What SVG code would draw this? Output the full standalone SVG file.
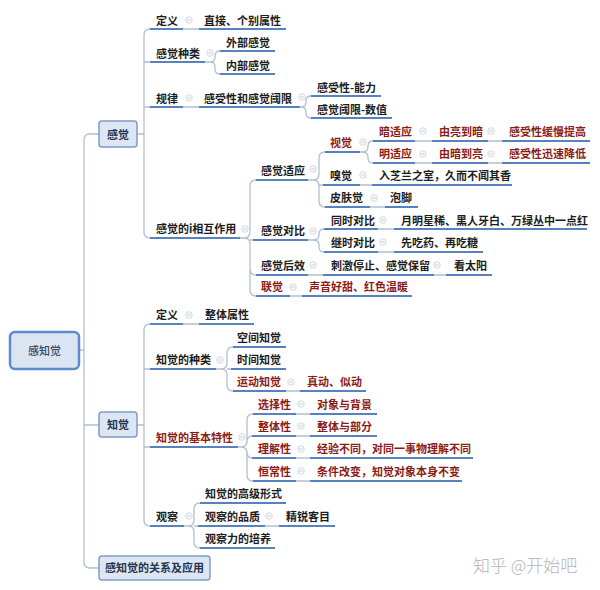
<svg xmlns="http://www.w3.org/2000/svg" width="600" height="590" viewBox="0 0 600 590">
<style>
.t{font-family:"Noto Sans CJK SC","Noto Sans",sans-serif;font-size:11px;fill:#1c1c1c;font-weight:700}
.r{fill:#8a1b16}
.bx{font-family:"Noto Sans CJK SC","Noto Sans",sans-serif;font-size:11px;fill:#24334f;font-weight:700;text-anchor:middle}
.u{stroke:#5683c0;stroke-width:2;fill:none}
.c{stroke:#b3bfcf;stroke-width:1.3;fill:none}
.k{fill:#f5f7f9;stroke:#cdd3da;stroke-width:0.8}
.km{stroke:#c4cad2;stroke-width:0.8}
.wm{font-family:"Noto Sans CJK SC","Noto Sans",sans-serif;font-size:17px;fill:#b4b4b4;font-weight:300}
</style>
<defs>
<g id="col"><circle r="3.3" class="k"/><line x1="-1.8" y1="0" x2="1.8" y2="0" class="km"/></g>
</defs>
<rect width="600" height="590" fill="#ffffff"/>

<g id="connectors">
<path class="c" d="M99 134 H90 Q84 134 84 140 V562 Q84 568 90 568 H99"/>
<path class="c" d="M79 350 H84 M84 425 H99"/>
<path class="c" d="M137 134 H144 M150 29 Q144 29 144 35 V232 Q144 238 150 238 M144 62 H150 M144 107 H150"/>
<path class="c" d="M137 425 H144 M150 324 Q144 324 144 330 V520 Q144 526 150 526 M144 369 H150 M144 447 H150"/>
<path class="c" d="M183 29 H199 M183 107 H199 M415 141 H432 M488 141 H502 M415 163 H432 M488 163 H502 M360 185 H372 M370 207 H385 M378 229 H394 M378 252 H394 M308 275 H323 M434 275 H446 M290 296 H302 M183 324 H199 M286 391 H300 M296 414 H310 M296 436 H310 M296 458 H310 M296 481 H310 M265 526 H279"/>
<path class="c" d="M205 62 H210 Q215 62 215 57 V56 Q215 51 220 51 M210 62 Q215 62 215 67 V69 Q215 74 220 74"/>
<path class="c" d="M300 107 H301 Q306 107 306 102 V101 Q306 96 311 96 M301 107 Q306 107 306 112 V113 Q306 118 311 118"/>
<path class="c" d="M240 238 H244 Q250 238 250 232 V186 Q250 180 256 180 M244 238 Q250 238 250 244 V290 Q250 296 256 296 M250 240 H253 M250 269 Q250 275 256 275"/>
<path class="c" d="M308 180 H313 Q319 180 319 174 V158 Q319 152 325 152 M313 180 Q319 180 319 186 V201 Q319 207 325 207 M319 185 H323"/>
<path class="c" d="M360 152 H362 Q368 152 368 147 V146 Q368 141 373 141 M362 152 Q368 152 368 157 V158 Q368 163 373 163"/>
<path class="c" d="M308 240 H313 Q319 240 319 235 V234 Q319 229 324 229 M313 240 Q319 240 319 245 V247 Q319 252 324 252"/>
<path class="c" d="M216 369 H221 Q227 369 227 363 V353 Q227 347 233 347 M221 369 Q227 369 227 375 V385 Q227 391 233 391 M227 369 H231"/>
<path class="c" d="M238 447 H241 Q247 447 247 441 V420 Q247 414 253 414 M241 447 Q247 447 247 453 V475 Q247 481 253 481 M247 442 Q247 436 252 436 M247 452 Q247 458 252 458"/>
<path class="c" d="M184 526 H188 Q194 526 194 520 V509 Q194 503 200 503 M188 526 Q194 526 194 532 V542 Q194 548 200 548 M194 526 H198"/>
</g>

<g id="root">
<rect x="10" y="332" width="69" height="37" rx="5" fill="#dbe5f2" stroke="#5d8bd0" stroke-width="2.5"/>
<text class="bx" x="44.5" y="354.5" style="fill:#3a4758;font-weight:500">感知觉</text>
</g>

<g id="n-ganjue">
<rect x="99" y="121" width="38" height="26" rx="3" fill="#dde6f3" stroke="#7e9cc8" stroke-width="1.5"/>
<text class="bx" x="118" y="138.5">感觉</text>
</g>
<g id="n-zhijue">
<rect x="99" y="412" width="38" height="25" rx="3" fill="#dde6f3" stroke="#7e9cc8" stroke-width="1.5"/>
<text class="bx" x="118" y="429">知觉</text>
</g>
<g id="n-guanxi">
<rect x="99" y="556" width="111" height="24" rx="3" fill="#dde6f3" stroke="#7e9cc8" stroke-width="1.5"/>
<text class="bx" x="154.5" y="572">感知觉的关系及应用</text>
</g>

<g id="n-dingyi1"><text class="t" x="156" y="25">定义</text><line class="u" x1="150" y1="29" x2="183" y2="29"/><use href="#col" x="189" y="20"/></g>
<g id="n-zhijie"><text class="t" x="204" y="25">直接、个别属性</text><line class="u" x1="199" y1="29" x2="286" y2="29"/></g>
<g id="n-zhonglei1"><text class="t" x="156" y="58">感觉种类</text><line class="u" x1="150" y1="62" x2="205" y2="62"/><use href="#col" x="210" y="53"/></g>
<g id="n-waibu"><text class="t" x="226" y="47">外部感觉</text><line class="u" x1="220" y1="51" x2="275" y2="51"/></g>
<g id="n-neibu"><text class="t" x="226" y="70">内部感觉</text><line class="u" x1="220" y1="74" x2="275" y2="74"/></g>
<g id="n-guilv"><text class="t" x="156" y="103">规律</text><line class="u" x1="150" y1="107" x2="183" y2="107"/><use href="#col" x="189" y="98"/></g>
<g id="n-ganshouxing"><text class="t" x="204" y="103">感受性和感觉阈限</text><line class="u" x1="199" y1="107" x2="300" y2="107"/><use href="#col" x="302" y="97"/></g>
<g id="n-nengli"><text class="t" x="317" y="92">感受性-能力</text><line class="u" x1="311" y1="96" x2="381" y2="96"/></g>
<g id="n-shuzhi"><text class="t" x="317" y="114">感觉阈限-数值</text><line class="u" x1="311" y1="118" x2="392" y2="118"/></g>
<g id="n-xianghu"><text class="t" x="156" y="233">感觉的i相互作用</text><line class="u" x1="150" y1="238" x2="240" y2="238"/><use href="#col" x="245" y="229"/></g>

<g id="n-shiying"><text class="t" x="261" y="175">感觉适应</text><line class="u" x1="256" y1="180" x2="308" y2="180"/><use href="#col" x="313" y="169"/></g>
<g id="n-shijue"><text class="t r" x="330" y="147">视觉</text><line class="u" x1="325" y1="152" x2="360" y2="152"/><use href="#col" x="363" y="142"/></g>
<g id="n-anshiying"><text class="t r" x="379" y="136">暗适应</text><line class="u" x1="373" y1="141" x2="415" y2="141"/><use href="#col" x="423" y="131"/></g>
<g id="n-youliang"><text class="t r" x="439" y="136">由亮到暗</text><line class="u" x1="432" y1="141" x2="488" y2="141"/><use href="#col" x="491" y="131"/></g>
<g id="n-huanman"><text class="t r" x="509" y="136">感受性缓慢提高</text><line class="u" x1="502" y1="141" x2="590" y2="141"/></g>
<g id="n-mingshiying"><text class="t r" x="379" y="158">明适应</text><line class="u" x1="373" y1="163" x2="415" y2="163"/><use href="#col" x="423" y="154"/></g>
<g id="n-youan"><text class="t r" x="439" y="158">由暗到亮</text><line class="u" x1="432" y1="163" x2="488" y2="163"/><use href="#col" x="491" y="154"/></g>
<g id="n-xunsu"><text class="t r" x="509" y="158">感受性迅速降低</text><line class="u" x1="502" y1="163" x2="590" y2="163"/></g>
<g id="n-xiujue"><text class="t" x="330" y="180">嗅觉</text><line class="u" x1="323" y1="185" x2="360" y2="185"/><use href="#col" x="363" y="175"/></g>
<g id="n-zhilan"><text class="t" x="379" y="180">入芝兰之室，久而不闻其香</text><line class="u" x1="372" y1="185" x2="512" y2="185"/></g>
<g id="n-pifu"><text class="t" x="330" y="202">皮肤觉</text><line class="u" x1="325" y1="207" x2="370" y2="207"/><use href="#col" x="374" y="198"/></g>
<g id="n-paojiao"><text class="t" x="390" y="202">泡脚</text><line class="u" x1="385" y1="207" x2="418" y2="207"/></g>

<g id="n-duibi"><text class="t" x="261" y="235">感觉对比</text><line class="u" x1="253" y1="240" x2="308" y2="240"/><use href="#col" x="313" y="231"/></g>
<g id="n-tongshi"><text class="t" x="331" y="225">同时对比</text><line class="u" x1="324" y1="229" x2="378" y2="229"/><use href="#col" x="383" y="220"/></g>
<g id="n-yueming"><text class="t" x="401" y="225">月明星稀、黑人牙白、万绿丛中一点红</text><line class="u" x1="394" y1="229" x2="587" y2="229"/></g>
<g id="n-jishi"><text class="t" x="331" y="247">继时对比</text><line class="u" x1="324" y1="252" x2="378" y2="252"/><use href="#col" x="383" y="242"/></g>
<g id="n-chiyao"><text class="t" x="401" y="247">先吃药、再吃糖</text><line class="u" x1="394" y1="252" x2="483" y2="252"/></g>
<g id="n-houxiao"><text class="t" x="261" y="270">感觉后效</text><line class="u" x1="256" y1="275" x2="308" y2="275"/><use href="#col" x="313" y="265"/></g>
<g id="n-ciji"><text class="t" x="331" y="270">刺激停止、感觉保留</text><line class="u" x1="323" y1="275" x2="434" y2="275"/><use href="#col" x="437" y="265"/></g>
<g id="n-taiyang"><text class="t" x="454" y="270">看太阳</text><line class="u" x1="446" y1="275" x2="492" y2="275"/></g>
<g id="n-lianjue"><text class="t r" x="261" y="291">联觉</text><line class="u" x1="256" y1="296" x2="290" y2="296"/><use href="#col" x="293" y="287"/></g>
<g id="n-shengyin"><text class="t r" x="309" y="291">声音好甜、红色温暖</text><line class="u" x1="302" y1="296" x2="412" y2="296"/></g>

<g id="n-dingyi2"><text class="t" x="156" y="319">定义</text><line class="u" x1="150" y1="324" x2="183" y2="324"/><use href="#col" x="189" y="315"/></g>
<g id="n-zhengti"><text class="t" x="205" y="319">整体属性</text><line class="u" x1="199" y1="324" x2="254" y2="324"/></g>
<g id="n-zhonglei2"><text class="t" x="156" y="364">知觉的种类</text><line class="u" x1="150" y1="369" x2="216" y2="369"/><use href="#col" x="220" y="360"/></g>
<g id="n-kongjian"><text class="t" x="237" y="342">空间知觉</text><line class="u" x1="233" y1="347" x2="286" y2="347"/></g>
<g id="n-shijian"><text class="t" x="237" y="364">时间知觉</text><line class="u" x1="231" y1="369" x2="286" y2="369"/></g>
<g id="n-yundong"><text class="t r" x="237" y="386">运动知觉</text><line class="u" x1="233" y1="391" x2="286" y2="391"/><use href="#col" x="291" y="382"/></g>
<g id="n-zhendong"><text class="t r" x="307" y="386">真动、似动</text><line class="u" x1="300" y1="391" x2="366" y2="391"/></g>
<g id="n-texing"><text class="t r" x="156" y="442">知觉的基本特性</text><line class="u" x1="150" y1="447" x2="238" y2="447"/><use href="#col" x="242" y="437"/></g>
<g id="n-xuanze"><text class="t r" x="258" y="409">选择性</text><line class="u" x1="253" y1="414" x2="296" y2="414"/><use href="#col" x="301" y="404"/></g>
<g id="n-duixiang"><text class="t r" x="317" y="409">对象与背景</text><line class="u" x1="310" y1="414" x2="377" y2="414"/></g>
<g id="n-zhengtixing"><text class="t r" x="258" y="431">整体性</text><line class="u" x1="252" y1="436" x2="296" y2="436"/><use href="#col" x="301" y="426"/></g>
<g id="n-bufen"><text class="t r" x="317" y="431">整体与部分</text><line class="u" x1="310" y1="436" x2="377" y2="436"/></g>
<g id="n-lijie"><text class="t r" x="258" y="453">理解性</text><line class="u" x1="252" y1="458" x2="296" y2="458"/><use href="#col" x="301" y="449"/></g>
<g id="n-jingyan"><text class="t r" x="317" y="453">经验不同，对同一事物理解不同</text><line class="u" x1="310" y1="458" x2="473" y2="458"/></g>
<g id="n-hengchang"><text class="t r" x="258" y="476">恒常性</text><line class="u" x1="253" y1="481" x2="296" y2="481"/><use href="#col" x="301" y="471"/></g>
<g id="n-tiaojian"><text class="t r" x="317" y="476">条件改变，知觉对象本身不变</text><line class="u" x1="310" y1="481" x2="462" y2="481"/></g>
<g id="n-guancha"><text class="t" x="156" y="521">观察</text><line class="u" x1="150" y1="526" x2="184" y2="526"/><use href="#col" x="189" y="516"/></g>
<g id="n-gaoji"><text class="t" x="205" y="498">知觉的高级形式</text><line class="u" x1="200" y1="503" x2="286" y2="503"/></g>
<g id="n-pinzhi"><text class="t" x="205" y="521">观察的品质</text><line class="u" x1="198" y1="526" x2="265" y2="526"/><use href="#col" x="269" y="516"/></g>
<g id="n-jingrui"><text class="t" x="286" y="521">精锐客目</text><line class="u" x1="279" y1="526" x2="335" y2="526"/></g>
<g id="n-peiyang"><text class="t" x="205" y="543">观察力的培养</text><line class="u" x1="200" y1="548" x2="275" y2="548"/></g>

<text class="wm" x="473" y="572">知乎 @开始吧</text>
</svg>
